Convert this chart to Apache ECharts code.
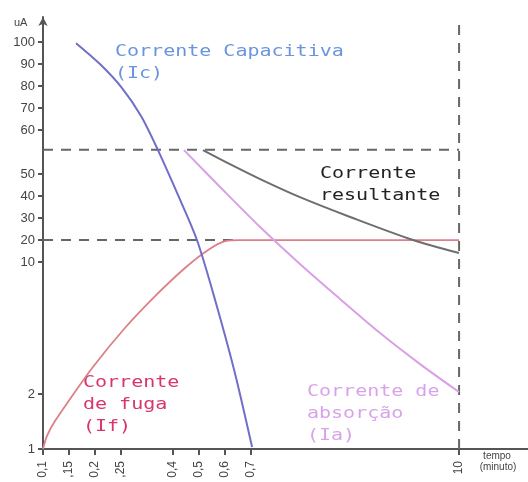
<!DOCTYPE html>
<html>
<head>
<meta charset="utf-8">
<script src="https://cdn.jsdelivr.net/npm/echarts@6/dist/echarts.min.js"></script>
<style>
  html, body { margin: 0; padding: 0; background: #fff; }
  #chart { width: 528px; height: 482px; }
</style>
</head>
<body>
<div id="chart"></div>
<script>
// eixo do esboço: posições uniformes (não é escala real)
const xTickPos = [0, 1, 2, 3, 5, 6, 7, 8, 16];
const xTickLabels = ['0,1', ',15', '0,2', ',25', '0,4', '0,5', '0,6', '0,7', '10'];
const yTickPos = [0, 2.5, 8.5, 9.5, 10.5, 11.5, 12.5, 14.5, 15.5, 16.5, 17.5, 18.5];
const yTickLabels = ['1', '2', '10', '20', '30', '40', '50', '60', '70', '80', '90', '100'];

// curvas (posição no esboço)
const capacitiva = [[1.27, 18.45], [2.19, 17.5], [3.04, 16.41], [3.77, 15.14], [4.42, 13.59],
  [5.19, 11.55], [5.92, 9.5], [6.65, 6.64], [7.35, 3.59], [8.04, 0.09]];
const fuga = [[0, 0], [0.15, 0.59], [0.46, 1.27], [1.04, 2.27], [1.92, 3.73], [3.15, 5.5],
  [4.31, 6.95], [5.46, 8.23], [6.35, 9.05], [7.0, 9.45], [7.58, 9.5], [16, 9.5]];
const absorcao = [[5.42, 13.59], [6.81, 11.91], [8.35, 10.09], [9.88, 8.41], [11.42, 6.82],
  [12.96, 5.27], [14.5, 3.86], [16, 2.59]];
const resultante = [[6.15, 13.59], [7.19, 12.95], [8.35, 12.27], [9.88, 11.45], [11.81, 10.55],
  [14.23, 9.5], [16, 8.91]];

// linhas tracejadas de referência
const refTopo = [[0, 13.6], [16, 13.6]];
const ref20 = [[0, 9.5], [7.3, 9.5]];
const ref10min = [[16, 0], [16, 19.4]];

const chart = echarts.init(document.getElementById('chart'));

const findLabel = (pos, labels, v) => {
  const i = pos.findIndex((p) => Math.abs(p - v) < 1e-6);
  return i >= 0 ? labels[i] : '';
};

const dashed = (data) => ({
  type: 'line',
  data: data,
  symbol: 'none',
  silent: true,
  lineStyle: { color: '#666', width: 2, type: [10, 8] },
  z: 1,
});

const curve = (data, color, width) => ({
  type: 'line',
  data: data,
  symbol: 'none',
  smooth: 0.3,
  lineStyle: { color: color, width: width },
  z: 2,
});

// textos das curvas (fonte monoespaçada esticada)
const FONT = '16px "DejaVu Sans Mono"';
const SX = 1.25;
const txt = (s, x, y, color) => ({
  type: 'text',
  x: x,
  y: y,
  scaleX: SX,
  style: { text: s, fill: color, font: FONT, verticalAlign: 'middle' },
});

const option = {
  animation: false,
  grid: { left: 43, right: 0, top: 17, bottom: 33 },
  xAxis: {
    type: 'value',
    min: 0,
    max: 18.65,
    splitLine: { show: false },
    axisLine: { lineStyle: { color: '#555', width: 2 } },
    axisTick: { customValues: xTickPos, length: 6, lineStyle: { color: '#555', width: 2 } },
    axisLabel: {
      customValues: xTickPos,
      rotate: 90,
      margin: 12,
      fontSize: 12,
      fontFamily: 'Liberation Sans',
      color: '#444',
      formatter: (v) => findLabel(xTickPos, xTickLabels, v),
    },
  },
  yAxis: {
    type: 'value',
    min: 0,
    max: 19.64,
    splitLine: { show: false },
    axisLine: {
      onZero: false,
      symbol: ['none', 'arrow'],
      symbolSize: [7, 9],
      lineStyle: { color: '#555', width: 2 },
    },
    axisTick: { customValues: yTickPos, length: 5, lineStyle: { color: '#555', width: 2 } },
    axisLabel: {
      customValues: yTickPos,
      margin: 8,
      fontSize: 13,
      fontFamily: 'Liberation Sans',
      color: '#444',
      formatter: (v) => findLabel(yTickPos, yTickLabels, v),
    },
  },
  series: [
    dashed(refTopo),
    dashed(ref20),
    dashed(ref10min),
    curve(fuga, '#dc7f88', 1.8),
    curve(capacitiva, '#6f6fc9', 2),
    curve(absorcao, '#d9a0e6', 2),
    curve(resultante, '#6e6e6e', 2),
  ],
  graphic: [
    { type: 'text', x: 14, y: 23, style: { text: 'uA', fill: '#444', font: '11px "Liberation Sans"', verticalAlign: 'middle' } },
    { type: 'text', x: 497, y: 456, style: { text: 'tempo', fill: '#444', font: '10px "Liberation Sans"', align: 'center', verticalAlign: 'middle' } },
    { type: 'text', x: 498, y: 467, style: { text: '(minuto)', fill: '#444', font: '10px "Liberation Sans"', align: 'center', verticalAlign: 'middle' } },
    txt('Corrente Capacitiva', 115, 52, '#6a95dc'),
    txt('(Ic)', 115, 74, '#6a95dc'),
    txt('Corrente', 320, 174, '#222'),
    txt('resultante', 320, 196, '#222'),
    txt('Corrente', 83, 383, '#d8366a'),
    txt('de fuga', 83, 405, '#d8366a'),
    txt('(If)', 83, 427, '#d8366a'),
    txt('Corrente de', 307, 392, '#d9a3ea'),
    txt('absorção', 307, 414, '#d9a3ea'),
    txt('(Ia)', 307, 436, '#d9a3ea'),
  ],
};

chart.setOption(option);
window.addEventListener('resize', () => chart.resize());
</script>
</body>
</html>
